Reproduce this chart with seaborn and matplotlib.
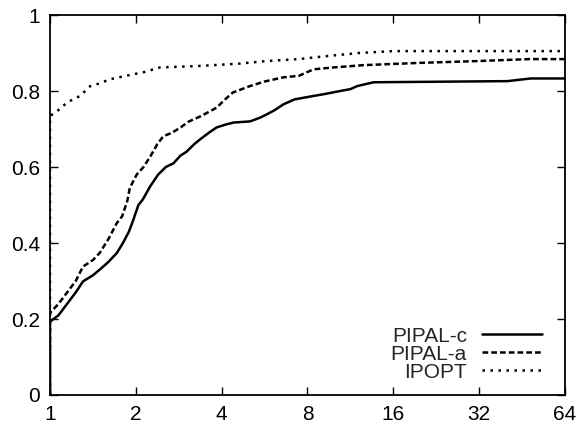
import numpy as np
import pandas as pd
import matplotlib
matplotlib.use("Agg")
import matplotlib.pyplot as plt
import seaborn as sns

# Performance-profile data (log2 of tau, fraction of problems)
c_log2_tau = [0, 0, 0.1, 0.2, 0.3, 0.385, 0.5, 0.58, 0.68, 0.78, 0.85, 0.92, 0.97, 1.03, 1.08,
              1.17, 1.26, 1.35, 1.44, 1.52, 1.59, 1.68, 1.75, 1.85, 1.94, 2.05, 2.14, 2.33,
              2.45, 2.53, 2.62, 2.72, 2.85, 3.07, 3.2, 3.38, 3.5, 3.58, 3.77, 5.33, 5.6, 6]
c_frac = [0, 0.193, 0.21, 0.24, 0.27, 0.299, 0.315, 0.33, 0.35, 0.374, 0.40, 0.43, 0.46, 0.50,
          0.514, 0.55, 0.58, 0.60, 0.61, 0.63, 0.64, 0.66, 0.673, 0.69, 0.704, 0.712, 0.717,
          0.72, 0.73, 0.739, 0.75, 0.765, 0.778, 0.787, 0.792, 0.80, 0.805, 0.813, 0.823,
          0.826, 0.833, 0.833]

a_log2_tau = [0, 0, 0.1, 0.2, 0.3, 0.385, 0.5, 0.58, 0.68, 0.78, 0.84, 0.9, 0.93, 1.01, 1.09,
              1.17, 1.25, 1.32, 1.42, 1.52, 1.62, 1.75, 1.85, 1.94, 2.05, 2.13, 2.33, 2.5,
              2.72, 2.9, 3.07, 3.3, 3.65, 4.3, 5.01, 5.59, 6]
a_frac = [0, 0.216, 0.24, 0.27, 0.30, 0.338, 0.355, 0.374, 0.41, 0.453, 0.47, 0.51, 0.545,
          0.58, 0.60, 0.628, 0.66, 0.681, 0.69, 0.704, 0.72, 0.733, 0.745, 0.756, 0.78,
          0.796, 0.813, 0.825, 0.836, 0.84, 0.857, 0.862, 0.868, 0.874, 0.879, 0.884, 0.884]

i_log2_tau = [0, 0, 0.1, 0.2, 0.35, 0.47, 0.58, 0.7, 0.97, 1.1, 1.28, 1.75, 2.2, 2.53, 2.9,
              3.23, 3.6, 4.0, 6]
i_frac = [0, 0.734, 0.75, 0.77, 0.787, 0.813, 0.82, 0.831, 0.844, 0.85, 0.862, 0.866, 0.872,
          0.879, 0.884, 0.892, 0.9, 0.905, 0.905]

labels = ["PIPAL-c", "PIPAL-a", "IPOPT"]
x_ticks = [1, 2, 4, 8, 16, 32, 64]
y_ticks = [0, 0.2, 0.4, 0.6, 0.8, 1]

sns.set_style("white")
plt.rcParams["font.family"] = ["Liberation Sans", "DejaVu Sans"]

fig = plt.figure(figsize=(5.81, 4.24), dpi=100)
ax = fig.add_axes([0.086, 0.0684, 0.8865, 0.8962])

styles = ["-", (0, (2.3, 1.2)), (0, (1.0, 2.2))]
series = [(c_log2_tau, c_frac), (a_log2_tau, a_frac), (i_log2_tau, i_frac)]
for (lt, fr), lab, ls in zip(series, labels, styles):
    df = pd.DataFrame({"tau": 2.0 ** np.array(lt), "frac": fr})
    sns.lineplot(data=df, x="tau", y="frac", ax=ax, color="black", lw=1.8,
                 linestyle=ls, label=lab, sort=False, estimator=None)

ax.set_xscale("log", base=2)
ax.set_xlim(1, 64)
ax.set_ylim(0, 1)
ax.set_xticks(x_ticks)
ax.set_xticklabels([str(t) for t in x_ticks])
ax.set_yticks(y_ticks)
ax.set_yticklabels(["0", "0.2", "0.4", "0.6", "0.8", "1"])
ax.minorticks_off()
ax.set_xlabel("")
ax.set_ylabel("")
ax.tick_params(direction="in", length=6, width=1, colors="black", labelsize=15,
               top=True, right=True, bottom=True, left=True, pad=7)
for sp in ax.spines.values():
    sp.set_color("black")
    sp.set_linewidth(1.3)

leg = ax.legend(loc="lower right", frameon=False, markerfirst=False, fontsize=15,
                handlelength=2.85, handletextpad=0.75, labelspacing=-0.05,
                borderpad=0.0, borderaxespad=0.0, bbox_to_anchor=(0.955, 0.035))

fig.savefig("out.png", dpi=100)
